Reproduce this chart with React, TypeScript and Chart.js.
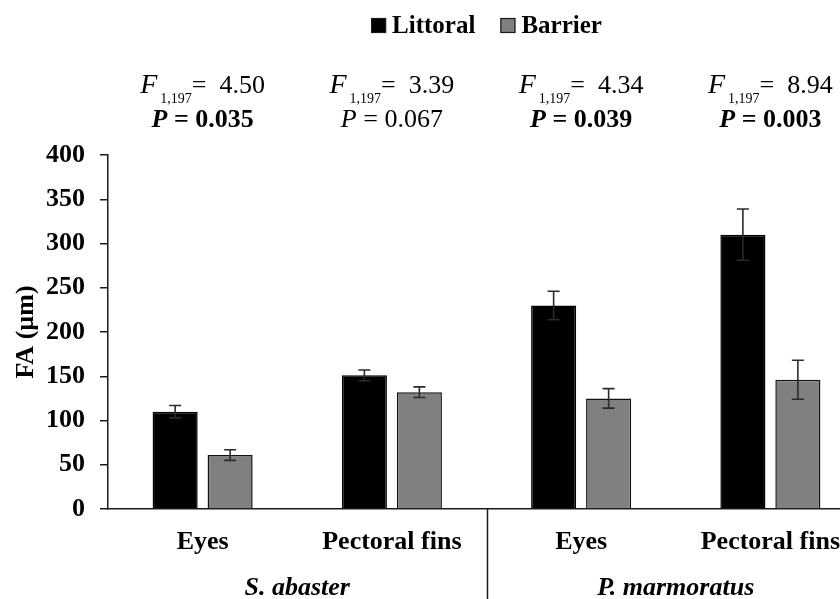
import React, { useEffect, useRef } from "react";
import { Chart, registerables } from "chart.js";

Chart.register(...registerables);

// ---------- data ----------
const categories = ["Eyes", "Pectoral fins", "Eyes", "Pectoral fins"];
const categoryGroup = [0, 0, 1, 1];
const groups = ["S. abaster", "P. marmoratus"];
const seriesNames = ["Littoral", "Barrier"];
const littoral = [110, 151, 230, 310];
const littoralErr = [7, 6, 16, 29];
const barrier = [61, 132, 125, 146];
const barrierErr = [6, 6, 11, 22];
const fValues = ["4.50", "3.39", "4.34", "8.94"];
const fDf = "1,197";
const pValues = ["0.035", "0.067", "0.039", "0.003"];
const pSignificant = [true, false, true, true];
const yMin = 0;
const yMax = 400;
const yStep = 50;
const yTitle = "FA (\u00b5m)";

const SERIF = '"Liberation Serif", "Times New Roman", serif';
const errorsByDataset = [littoralErr, barrierErr];

type Seg = { text: string; font: string; dy?: number; gap?: number; w?: number };

function drawSegments(ctx: CanvasRenderingContext2D, segs: Seg[], cx: number, baseline: number) {
  let total = 0;
  segs.forEach((s) => {
    ctx.font = s.font;
    s.w = ctx.measureText(s.text).width;
    total += s.w + (s.gap || 0);
  });
  let x = cx - total / 2;
  segs.forEach((s) => {
    x += s.gap || 0;
    ctx.font = s.font;
    ctx.fillText(s.text, x, baseline + (s.dy || 0));
    x += s.w || 0;
  });
}

const overlayPlugin = {
  id: "overlay",
  afterDatasetsDraw(chart: any) {
    const ctx: CanvasRenderingContext2D = chart.ctx;
    const yS = chart.scales.y;
    chart.data.datasets.forEach((ds: any, di: number) => {
      const meta = chart.getDatasetMeta(di);
      const errs = errorsByDataset[di];
      meta.data.forEach((bar: any, i: number) => {
        const v = ds.data[i];
        const e = errs[i];
        const x = bar.x;
        const yt = yS.getPixelForValue(v + e);
        const yb = yS.getPixelForValue(v - e);
        ctx.save();
        ctx.strokeStyle = "#2b2b2b";
        ctx.lineWidth = 1.6;
        ctx.beginPath();
        ctx.moveTo(x, yt);
        ctx.lineTo(x, yb);
        ctx.moveTo(x - 6, yt);
        ctx.lineTo(x + 6, yt);
        ctx.moveTo(x - 6, yb);
        ctx.lineTo(x + 6, yb);
        ctx.stroke();
        ctx.restore();
      });
    });
  },
  afterDraw(chart: any) {
    const ctx: CanvasRenderingContext2D = chart.ctx;
    const xS = chart.scales.x;
    const area = chart.chartArea;
    ctx.save();
    ctx.fillStyle = "#000";
    ctx.textAlign = "left";
    ctx.textBaseline = "alphabetic";

    // legend
    const legendFont = `bold 25px ${SERIF}`;
    ctx.font = legendFont;
    const box = 15;
    const boxGap = 6;
    const itemGap = 25;
    const items = chart.data.datasets.map((ds: any) => ({
      label: ds.label,
      color: ds.backgroundColor,
      w: box + boxGap + ctx.measureText(ds.label).width,
    }));
    const totalW = items.reduce((a: number, it: any) => a + it.w, 0) + itemGap * (items.length - 1);
    let lx = (area.left + area.right) / 2 - totalW / 2;
    const lBase = 33;
    items.forEach((it: any) => {
      ctx.fillStyle = it.color;
      ctx.fillRect(lx, lBase - box, box, box);
      ctx.strokeStyle = "#1a1a1a";
      ctx.lineWidth = 1.2;
      ctx.strokeRect(lx + 0.5, lBase - box + 0.5, box - 1, box - 1);
      ctx.fillStyle = "#000";
      ctx.font = legendFont;
      ctx.fillText(it.label, lx + box + boxGap, lBase);
      lx += it.w + itemGap;
    });

    // statistics annotations
    categories.forEach((_, i) => {
      const cx = xS.getPixelForValue(i);
      drawSegments(
        ctx,
        [
          { text: "F", font: `italic 28px ${SERIF}` },
          { text: fDf, font: `14px ${SERIF}`, dy: 10, gap: 3 },
          { text: "=  " + fValues[i], font: `26px ${SERIF}` },
        ],
        cx,
        93
      );
      const sig = pSignificant[i];
      drawSegments(
        ctx,
        [
          { text: "P", font: `${sig ? "bold " : ""}italic 26px ${SERIF}` },
          { text: " = " + pValues[i], font: `${sig ? "bold " : ""}26px ${SERIF}` },
        ],
        cx,
        127
      );
    });

    // group labels and separators
    const catW = (xS.right - xS.left) / categories.length;
    ctx.textAlign = "center";
    groups.forEach((g, gi) => {
      const idx = categoryGroup.map((c, i) => (c === gi ? i : -1)).filter((i) => i >= 0);
      const l = xS.left + idx[0] * catW;
      const r = xS.left + (idx[idx.length - 1] + 1) * catW;
      ctx.font = `bold italic 26px ${SERIF}`;
      ctx.fillText(g, (l + r) / 2, 595);
    });
    ctx.strokeStyle = "#1a1a1a";
    ctx.lineWidth = 1.5;
    for (let i = 1; i < categories.length; i++) {
      if (categoryGroup[i] !== categoryGroup[i - 1]) {
        const sx = Math.round(xS.left + i * catW) + 0.5;
        ctx.beginPath();
        ctx.moveTo(sx, area.bottom);
        ctx.lineTo(sx, chart.height);
        ctx.stroke();
      }
    }
    ctx.restore();
  },
};

export default function App() {
  const ref = useRef<HTMLCanvasElement | null>(null);
  useEffect(() => {
    if (!ref.current) return;
    const chart = new Chart(ref.current, {
      type: "bar",
      data: {
        labels: categories,
        datasets: [
          {
            label: seriesNames[0],
            data: littoral,
            backgroundColor: "#000000",
            borderColor: "#000000",
            borderWidth: 1.5,
          },
          {
            label: seriesNames[1],
            data: barrier,
            backgroundColor: "#808080",
            borderColor: "#111111",
            borderWidth: 1.5,
          },
        ],
      },
      options: {
        responsive: false,
        animation: false,
        devicePixelRatio: 1,
        layout: { padding: { top: 155, left: 0, right: 15, bottom: 0 } },
        datasets: {
          bar: { categoryPercentage: 0.581, barPercentage: 0.82 },
        },
        plugins: {
          legend: { display: false },
          tooltip: { enabled: false },
        },
        scales: {
          x: {
            afterFit: (s: any) => {
              s.height = 90;
            },
            grid: { display: true, drawOnChartArea: false, drawTicks: false },
            border: { display: true, color: "#1a1a1a", width: 1.5 },
            ticks: {
              color: "#000",
              padding: 18,
              font: { family: SERIF, size: 26, weight: "bold" },
            },
          },
          y: {
            min: yMin,
            max: yMax,
            afterFit: (s: any) => {
              s.width = 108;
            },
            grid: {
              display: true,
              drawOnChartArea: false,
              drawTicks: true,
              tickLength: 8,
              color: "#1a1a1a",
              lineWidth: 1.5,
            },
            border: { display: true, color: "#1a1a1a", width: 1.5 },
            ticks: {
              stepSize: yStep,
              color: "#000",
              padding: 15,
              font: { family: SERIF, size: 26, weight: "bold" },
            },
            title: {
              display: true,
              text: yTitle,
              color: "#000",
              padding: { top: 11, bottom: 0 },
              font: { family: SERIF, size: 26, weight: "bold" },
            },
          },
        },
      },
      plugins: [overlayPlugin],
    });
    return () => chart.destroy();
  }, []);

  return (
    <div
      style={{
        position: "fixed",
        left: 0,
        top: 0,
        width: 840,
        height: 599,
        overflow: "hidden",
        background: "#fff",
      }}
    >
      <canvas ref={ref} width={880} height={599} style={{ display: "block", width: 880, height: 599 }} />
    </div>
  );
}
